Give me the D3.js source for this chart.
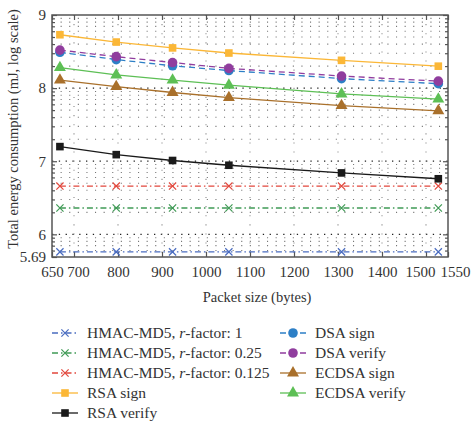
<!DOCTYPE html>
<html>
<head>
<meta charset="utf-8">
<script src="https://d3js.org/d3.v7.min.js"></script>
<style>
    body { margin: 0; background: #fff; }
    svg text { font-family: "Liberation Serif", "DejaVu Serif", serif; fill: #333; }
    .tick-label { font-size: 15px; }
    .axis-title { font-size: 14.5px; }
    .legend-text { font-size: 15.5px; }
</style>
</head>
<body>
<script>
const WIDTH = 473;
const HEIGHT = 424;

// packet sizes (bytes)
const packetSizes = [668, 796, 924, 1052, 1308, 1528];

// energy (mJ, log scale) per series
const hmacR1 = [5.76, 5.76, 5.76, 5.76, 5.76, 5.76];
const hmacR025 = [6.36, 6.36, 6.36, 6.36, 6.36, 6.36];
const hmacR0125 = [6.66, 6.66, 6.66, 6.66, 6.66, 6.66];
const rsaSign = [8.73, 8.63, 8.55, 8.48, 8.38, 8.30];
const rsaVerify = [7.20, 7.09, 7.01, 6.945, 6.84, 6.76];
const dsaSign = [8.49, 8.39, 8.305, 8.24, 8.13, 8.06];
const dsaVerify = [8.52, 8.43, 8.35, 8.27, 8.165, 8.095];
const ecdsaSign = [8.11, 8.02, 7.94, 7.87, 7.76, 7.69];
const ecdsaVerify = [8.28, 8.18, 8.11, 8.04, 7.92, 7.85];

const xTicks = [650, 700, 800, 900, 1000, 1100, 1200, 1300, 1400, 1500, 1550];
const yTicks = [5.69, 6, 7, 8, 9];

const series = [
    {name: "HMAC-MD5, r-factor: 1", values: hmacR1, color: "#4a6cc0", dash: "6,3,1.5,3", marker: "x"},
    {name: "HMAC-MD5, r-factor: 0.25", values: hmacR025, color: "#3f9a55", dash: "6,3,1.5,3", marker: "x"},
    {name: "HMAC-MD5, r-factor: 0.125", values: hmacR0125, color: "#e2473c", dash: "6,3,1.5,3", marker: "x"},
    {name: "RSA sign", values: rsaSign, color: "#fbb737", dash: null, marker: "square"},
    {name: "RSA verify", values: rsaVerify, color: "#1a1a1a", dash: null, marker: "square"},
    {name: "DSA sign", values: dsaSign, color: "#2d7fc6", dash: "6,4", marker: "circle"},
    {name: "DSA verify", values: dsaVerify, color: "#903d9e", dash: "6,4", marker: "circle"},
    {name: "ECDSA sign", values: ecdsaSign, color: "#a9702b", dash: null, marker: "triangle"},
    {name: "ECDSA verify", values: ecdsaVerify, color: "#5dbf55", dash: null, marker: "triangle"}
];

const plotLeft = 52, plotRight = 448, plotTop = 15, plotBottom = 257;

const svg = d3.select("body").append("svg")
    .attr("width", WIDTH)
    .attr("height", HEIGHT);

const x = d3.scaleLinear().domain([650, 1550]).range([plotLeft, plotRight]);
const y = d3.scaleLinear().domain([5.69, 9]).range([plotBottom, plotTop]);

// minor y positions, log-style within each unit
var minorY = [];
for (var n = 5; n <= 8; n++) {
    for (var k = 2; k <= 9; k++) {
        var v = n + Math.log10(k);
        if (v > 5.70 && v < 9) minorY.push(v);
    }
}
var majorY = [6, 7, 8];

// grid
const grid = svg.append("g");
grid.selectAll(".hgrid-minor")
    .data(minorY)
    .enter().append("line")
    .attr("x1", plotLeft).attr("x2", plotRight)
    .attr("y1", d => y(d)).attr("y2", d => y(d))
    .attr("stroke", "#777")
    .attr("stroke-width", 1.1)
    .attr("stroke-dasharray", "1.1,7.5");
grid.selectAll(".hgrid-major")
    .data(majorY)
    .enter().append("line")
    .attr("x1", plotLeft).attr("x2", plotRight)
    .attr("y1", d => y(d)).attr("y2", d => y(d))
    .attr("stroke", "#222")
    .attr("stroke-width", 1.3)
    .attr("stroke-dasharray", "1.3,5.5");
grid.selectAll(".vgrid")
    .data(xTicks.slice(1, -1))
    .enter().append("line")
    .attr("x1", d => x(d)).attr("x2", d => x(d))
    .attr("y1", plotTop).attr("y2", plotBottom)
    .attr("stroke", "#888")
    .attr("stroke-width", 1.1)
    .attr("stroke-dasharray", "1.1,8");

// axes (ticks pointing inward on all four sides)
const axisColor = "#555";
const labelNudge = {700: 4, 1500: -6, 1550: 7};
const yAxisL = d3.axisLeft(y).tickValues(yTicks).tickSize(-5).tickPadding(6)
    .tickFormat(d => d === 5.69 ? "5.69" : d3.format("d")(d));
const yAxisR = d3.axisRight(y).tickValues(majorY.concat([9])).tickSize(-5).tickFormat("");
const yMinorL = d3.axisLeft(y).tickValues(minorY).tickSize(-3).tickFormat("");
const yMinorR = d3.axisRight(y).tickValues(minorY).tickSize(-3).tickFormat("");
const xAxisB = d3.axisBottom(x).tickValues(xTicks).tickSize(-5).tickPadding(9).tickFormat(d3.format("d"));
const xAxisT = d3.axisTop(x).tickValues(xTicks).tickSize(-5).tickFormat("");

function styleAxis(g) {
    g.select(".domain").remove();
    g.attr("font-family", null);
    g.selectAll("line").attr("stroke", axisColor).attr("stroke-width", 1.2);
    g.selectAll("text").attr("class", "tick-label").attr("fill", "#333");
}
svg.append("g").attr("transform", `translate(${plotLeft},0)`).call(yAxisL).call(styleAxis);
svg.append("g").attr("transform", `translate(${plotLeft},0)`).call(yMinorL).call(styleAxis);
svg.append("g").attr("transform", `translate(${plotRight},0)`).call(yAxisR).call(styleAxis);
svg.append("g").attr("transform", `translate(${plotRight},0)`).call(yMinorR).call(styleAxis);
svg.append("g").attr("transform", `translate(0,${plotBottom})`).call(xAxisB).call(styleAxis)
    .selectAll(".tick text").attr("dx", d => labelNudge[d] || 0);
svg.append("g").attr("transform", `translate(0,${plotTop})`).call(xAxisT).call(styleAxis);

svg.append("rect")
    .attr("x", plotLeft).attr("y", plotTop)
    .attr("width", plotRight - plotLeft).attr("height", plotBottom - plotTop)
    .attr("fill", "none")
    .attr("stroke", axisColor)
    .attr("stroke-width", 1.5);

// axis titles
svg.append("text")
    .attr("class", "axis-title")
    .attr("text-anchor", "middle")
    .attr("x", 257)
    .attr("y", 302)
    .text("Packet size (bytes)");

svg.append("text")
    .attr("class", "axis-title")
    .attr("text-anchor", "middle")
    .attr("transform", "translate(18, 129) rotate(-90)")
    .text("Total energy consumption (mJ, log scale)");

// marker drawing
function drawMarker(g, type, cx, cy, color) {
    if (type === "x") {
        var s = 3.6;
        g.append("path")
            .attr("d", `M${cx - s},${cy - s}L${cx + s},${cy + s}M${cx - s},${cy + s}L${cx + s},${cy - s}`)
            .attr("stroke", color).attr("stroke-width", 1.2).attr("fill", "none");
    } else if (type === "square") {
        g.append("rect")
            .attr("x", cx - 3.8).attr("y", cy - 3.8)
            .attr("width", 7.6).attr("height", 7.6)
            .attr("fill", color);
    } else if (type === "circle") {
        g.append("circle")
            .attr("cx", cx).attr("cy", cy).attr("r", 4.8)
            .attr("fill", color);
    } else if (type === "triangle") {
        g.append("path")
            .attr("d", d3.symbol().type(d3.symbolTriangle).size(62)())
            .attr("transform", `translate(${cx},${cy})`)
            .attr("fill", color);
    }
}

const line = d3.line()
    .x((d, i) => x(packetSizes[i]))
    .y(d => y(d));

const plot = svg.append("g");
series.forEach(function(s) {
    plot.append("path")
        .datum(s.values)
        .attr("d", line)
        .attr("fill", "none")
        .attr("stroke", s.color)
        .attr("stroke-width", 1.3)
        .attr("stroke-dasharray", s.dash);
    s.values.forEach(function(v, i) {
        drawMarker(plot, s.marker, x(packetSizes[i]), y(v), s.color);
    });
});

// legend, two columns
const legendCols = [{lineX: 52, textX: 87}, {lineX: 280, textX: 315}];
const legendRowY = [333, 353, 373, 393, 413];
const leftColCount = 5;
series.forEach(function(s, i) {
    var col = i < leftColCount ? 0 : 1;
    var row = i < leftColCount ? i : i - leftColCount;
    var lx = legendCols[col].lineX;
    var ly = legendRowY[row];
    var lg = svg.append("g");
    lg.append("line")
        .attr("x1", lx).attr("x2", lx + 26)
        .attr("y1", ly).attr("y2", ly)
        .attr("stroke", s.color)
        .attr("stroke-width", 1.3)
        .attr("stroke-dasharray", s.dash);
    drawMarker(lg, s.marker, lx + 13, ly, s.color);
    var t = lg.append("text")
        .attr("class", "legend-text")
        .attr("x", legendCols[col].textX)
        .attr("y", ly + 5);
    var m = s.name.match(/^(.*, )r(-factor: .*)$/);
    if (m) {
        t.append("tspan").text(m[1]);
        t.append("tspan").attr("font-style", "italic").text("r");
        t.append("tspan").text(m[2]);
    } else {
        t.text(s.name);
    }
});
</script>
</body>
</html>
